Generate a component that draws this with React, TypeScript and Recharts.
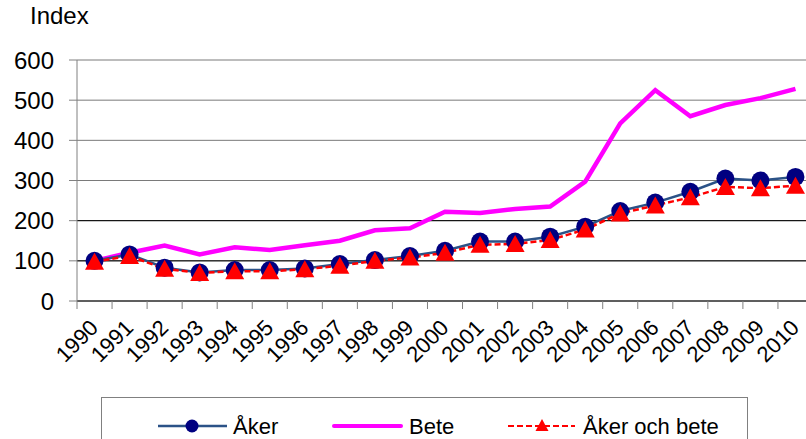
import React from 'react';
import { LineChart, Line, XAxis, YAxis, CartesianGrid, ReferenceLine } from 'recharts';

const years = ['1990', '1991', '1992', '1993', '1994', '1995', '1996', '1997', '1998', '1999', '2000',
  '2001', '2002', '2003', '2004', '2005', '2006', '2007', '2008', '2009', '2010'];
const aker = [100, 116, 83, 71, 77, 77, 81, 92, 102, 112, 125, 148, 148, 160, 185, 224, 245, 272, 305, 300, 309];
const bete = [100, 120, 138, 116, 134, 127, 139, 150, 176, 181, 222, 219, 229, 235, 297, 442, 525, 460, 488, 505, 528];
const akerOchBete = [98, 112, 80, 70, 74, 74, 79, 88, 100, 108, 120, 140, 142, 152, 178, 218, 238, 258, 284, 281, 287];
const yTicks = [0, 100, 200, 300, 400, 500, 600];

const data = years.map((year, i) => ({
  year,
  aker: aker[i],
  bete: bete[i],
  akerOchBete: akerOchBete[i],
}));

const FONT = '"Liberation Sans", Arial, sans-serif';
const AKER_LINE = '#2B5287';
const AKER_DOT = '#000080';
const BETE = '#FF00FF';
const RED = '#FF0000';

const XTick = (props: any) => {
  const { x, y, payload, index } = props;
  const off = payload.offset || 0;
  const tx = x + 5;
  const ty = y + 28;
  return (
    <g>
      <line x1={x - off} x2={x - off} y1={y} y2={y + 8} stroke="#808080" />
      {index === years.length - 1 && (
        <line x1={x + off} x2={x + off} y1={y} y2={y + 8} stroke="#808080" />
      )}
      <text
        x={tx}
        y={ty}
        textAnchor="end"
        fontSize={22}
        fontFamily={FONT}
        fill="#000"
        transform={`rotate(-45, ${tx}, ${ty})`}
      >
        {payload.value}
      </text>
    </g>
  );
};

const Triangle = (props: any) => {
  const { cx, cy } = props;
  if (cx == null || cy == null) return null;
  return <polygon points={`${cx},${cy - 9} ${cx + 9.5},${cy + 8} ${cx - 9.5},${cy + 8}`} fill={RED} />;
};

const LegendBox = () => (
  <div
    style={{
      position: 'absolute',
      left: 101,
      top: 397,
      width: 647,
      height: 60,
      border: '1px solid #808080',
      boxSizing: 'border-box',
      fontFamily: FONT,
      fontSize: 22,
    }}
  >
    <svg width={647} height={60} style={{ position: 'absolute', left: 0, top: 0 }}>
      <line x1={56} x2={125} y1={28} y2={28} stroke={AKER_LINE} strokeWidth={2.5} />
      <circle cx={90} cy={28} r={6.5} fill={AKER_DOT} />
      <line x1={232} x2={299} y1={28} y2={28} stroke={BETE} strokeWidth={4} strokeLinecap="round" />
      <line x1={406} x2={473} y1={28} y2={28} stroke={RED} strokeWidth={2} strokeDasharray="6 3" />
      <polygon points="440,21 446.5,33 433.5,33" fill={RED} />
      <text x={131} y={36} fontSize={22} fontFamily={FONT}>Åker</text>
      <text x={307} y={36} fontSize={22} fontFamily={FONT}>Bete</text>
      <text x={481} y={36} fontSize={22} fontFamily={FONT}>Åker och bete</text>
    </svg>
  </div>
);

export default function App() {
  return (
    <div
      style={{
        position: 'fixed',
        left: 0,
        top: 0,
        width: 806,
        height: 439,
        overflow: 'hidden',
        background: '#fff',
        fontFamily: FONT,
      }}
    >
      <div style={{ position: 'absolute', left: 30, top: 4, fontSize: 24, lineHeight: '24px' }}>Index</div>
      <div style={{ position: 'absolute', left: 0, top: 0 }}>
        <LineChart width={820} height={439} data={data} margin={{ top: 60, right: 7, bottom: 0, left: 0 }}>
          <CartesianGrid vertical={false} stroke="#7a7a7a" />
          <ReferenceLine y={100} stroke="#000" />
          <ReferenceLine y={200} stroke="#000" />
          <XAxis
            dataKey="year"
            scale="band"
            height={138}
            interval={0}
            tickSize={0}
            tickMargin={0}
            axisLine={{ stroke: '#000' }}
            tick={<XTick />}
          />
          <YAxis
            width={77}
            domain={[0, 600]}
            ticks={yTicks}
            interval={0}
            tickSize={8}
            tickMargin={15}
            axisLine={{ stroke: '#808080' }}
            tickLine={{ stroke: '#808080' }}
            tick={{ fill: '#000', fontSize: 24, fontFamily: FONT }}
          />
          <Line
            dataKey="bete"
            stroke={BETE}
            strokeWidth={4.5}
            dot={false}
            activeDot={false}
            isAnimationActive={false}
          />
          <Line
            dataKey="aker"
            stroke={AKER_LINE}
            strokeWidth={2.5}
            dot={{ r: 9, fill: AKER_DOT, stroke: AKER_DOT, strokeWidth: 0 }}
            activeDot={false}
            isAnimationActive={false}
          />
          <Line
            dataKey="akerOchBete"
            stroke={RED}
            strokeWidth={2.5}
            strokeDasharray="6 3"
            dot={<Triangle />}
            activeDot={false}
            isAnimationActive={false}
          />
        </LineChart>
      </div>
      <LegendBox />
    </div>
  );
}
